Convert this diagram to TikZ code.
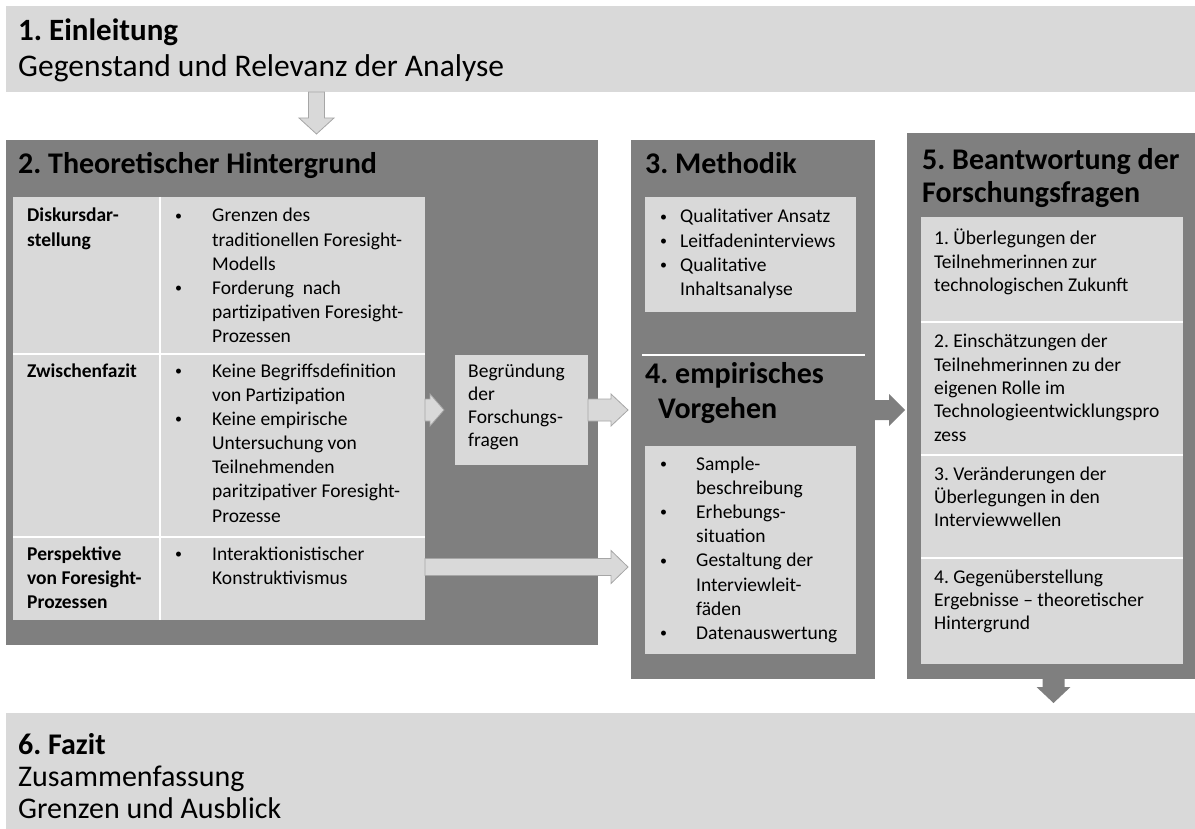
\documentclass[tikz,border=0pt]{standalone}
\usepackage{fontspec}
\setmainfont{Carlito}
\usetikzlibrary{calc}

\definecolor{boxlight}{HTML}{D9D9D9}
\definecolor{boxdark}{HTML}{7F7F7F}
\definecolor{arrowrim}{HTML}{A6A6A6}

% filled rectangle given by its corners (in px)
\newcommand\panel[6]{\node[#2, minimum width={(#5-#3)*1pt}, minimum height={(#6-#4)*1pt}] (#1) at (#3,#4) {};}
% block arrow pointing right: style, from, to, shaft half, head half, head length
\newcommand\rightblock[6]{\path[#1] let \p1=(#2), \p2=(#3) in
  ({\x1},{\y1+#4}) -- ({\x2-#6},{\y1+#4}) -- ({\x2-#6},{\y1+#5}) -- ({\x2},{\y1})
  -- ({\x2-#6},{\y1-#5}) -- ({\x2-#6},{\y1-#4}) -- ({\x1},{\y1-#4}) -- cycle;}
% block arrow pointing down: style, from, to, shaft half, head half, head length
\newcommand\downblock[6]{\path[#1] let \p1=(#2), \p2=(#3) in
  ({\x1-#4},{\y1}) -- ({\x1-#4},{\y2+#6}) -- ({\x1-#5},{\y2+#6}) -- ({\x1},{\y2})
  -- ({\x1+#5},{\y2+#6}) -- ({\x1+#4},{\y2+#6}) -- ({\x1+#4},{\y1}) -- cycle;}
% text block whose baseline is that of its first line; \\ breaks a line
% without ending the paragraph, so hanging indents carry on
\newcommand\blk[2]{\vtop{\hsize=#1\parindent=0pt\parskip=0pt
  \leftskip=0pt\rightskip=0pt plus 1fil\let\\\newline\noindent #2\par}}
% small list bullet
\newcommand\dotmark{\raisebox{1.8pt}{\fontsize{14}{14}\selectfont\textbullet}}
% bullet item with hanging indent
\newcommand\bitem[2]{\noindent\hangindent=#1\hangafter=1\makebox[#1][l]{\dotmark}#2\par}

\tikzset{
  panelbase/.style={anchor=north west, inner sep=0pt, outer sep=0pt, draw=none},
  light/.style={panelbase, fill=boxlight},
  dark/.style={panelbase, fill=boxdark},
  sepline/.style={draw=white, line width=1.5pt},
  head/.style={anchor=base west, inner sep=0pt, font=\fontsize{30}{36}\selectfont\bfseries},
  big/.style={anchor=base west, inner sep=0pt, font=\fontsize{30}{36}\selectfont},
  small/.style={anchor=base west, inner sep=0pt, font=\fontsize{19.5}{24.2}\selectfont},
  smallbold/.style={anchor=base west, inner sep=0pt, font=\fontsize{19.5}{24.2}\selectfont\bfseries},
  answer/.style={anchor=base west, inner sep=0pt, font=\fontsize{19.5}{23.3}\selectfont},
  lightarrow/.style={fill=boxlight, draw=arrowrim, line width=0.8pt},
  darkarrow/.style={fill=boxdark},
}

\begin{document}
\frenchspacing
\begin{tikzpicture}[x=1pt, y=-1pt]
\useasboundingbox (0,0) rectangle (1195,829);

% ---- 1. Einleitung
\panel{einl}{light}{6}{6}{1195}{92}
\node[head, font=\fontsize{31}{36}\selectfont\bfseries] (einlT) at (18,41) {1. Einleitung};
\node[big, font=\fontsize{31.5}{36}\selectfont] (einlS) at (18,77) {Gegenstand und Relevanz der Analyse};

% ---- 2. Theoretischer Hintergrund
\panel{theo}{dark}{6}{140}{598}{645}
\node[head] (theoT) at (18,174) {2. Theoretischer Hintergrund};
\panel{c11}{light}{13}{197}{160}{354}
\panel{c12}{light}{160}{197}{425}{354}
\panel{c21}{light}{13}{354}{160}{537}
\panel{c22}{light}{160}{354}{425}{537}
\panel{c31}{light}{13}{537}{160}{620}
\panel{c32}{light}{160}{537}{425}{620}
\draw[sepline] (c11.north east) -- (c31.south east);
\draw[sepline] (c11.south west) -- (c12.south east);
\draw[sepline] (c21.south west) -- (c22.south east);

\node[smallbold] (t11) at (27,222) {\blk{130pt}{Diskursdar-\\stellung}};
\node[small] (t12) at (175,222) {\blk{250pt}{\bitem{37pt}{Grenzen des\\traditionellen Foresight-\\Modells}\bitem{37pt}{Forderung\ \ nach\\partizipativen Foresight-\\Prozessen}}};
\node[smallbold] (t21) at (27,377) {\blk{130pt}{Zwischenfazit}};
\node[small] (t22) at (175,377) {\blk{250pt}{\bitem{37pt}{Keine Begriffsdefinition\\von Partizipation}\bitem{37pt}{Keine empirische\\Untersuchung von\\Teilnehmenden\\paritzipativer Foresight-\\Prozesse}}};
\node[smallbold] (t31) at (27,560) {\blk{130pt}{Perspektive\\von Foresight-\\Prozessen}};
\node[small] (t32) at (175,560) {\blk{250pt}{\bitem{37pt}{Interaktionistischer\\Konstruktivismus}}};

\panel{beg}{light}{455}{355}{588}{465}
\node[answer] (begT) at (468,377) {\blk{120pt}{Begründung\\der\\Forschungs-\\fragen}};

% ---- 3. Methodik / 4. empirisches Vorgehen
\panel{col34}{dark}{631}{140}{875}{679}
\node[head] (methT) at (645,174) {3. Methodik};
\panel{meth}{light}{645}{197}{856}{312}
\node[small] (methL) at (660,223) {\blk{200pt}{\bitem{20pt}{Qualitativer Ansatz}\bitem{20pt}{Leitfadeninterviews}\bitem{20pt}{Qualitative\\Inhaltsanalyse}}};
\draw[sepline] ($(col34.north west)+(11,215)$) -- ($(col34.north east)+(-10,215)$);
\node[head] (empT) at (645,383) {4. empirisches};
\node[head] (empT2) at (658,418) {Vorgehen};
\panel{emp}{light}{645}{446}{856}{654}
\node[small] (empL) at (660,470) {\blk{200pt}{\bitem{36pt}{Sample-\\beschreibung}\bitem{36pt}{Erhebungs-\\situation}\bitem{36pt}{Gestaltung der\\Interviewleit-\\fäden}\bitem{36pt}{Datenauswertung}}};

% ---- 5. Beantwortung der Forschungsfragen
\panel{col5}{dark}{907}{133}{1195}{679}
\node[head] (ansT) at (922,170) {5. Beantwortung der};
\node[head] (ansT2) at (922,203) {Forschungsfragen};
\panel{q1}{light}{921}{217}{1183}{322}
\panel{q2}{light}{921}{322}{1183}{455}
\panel{q3}{light}{921}{455}{1183}{558}
\panel{q4}{light}{921}{558}{1183}{664}
\draw[sepline] (q1.south west) -- (q1.south east);
\draw[sepline] (q2.south west) -- (q2.south east);
\draw[sepline] (q3.south west) -- (q3.south east);
\node[answer] (q1T) at (934,245) {\blk{245pt}{1. Überlegungen der\\Teilnehmerinnen zur\\technologischen Zukunft}};
\node[answer] (q2T) at (934,348) {\blk{245pt}{2. Einschätzungen der\\Teilnehmerinnen zu der\\eigenen Rolle im\\Technologieentwicklungspro\\zess}};
\node[answer] (q3T) at (934,480) {\blk{245pt}{3. Veränderungen der\\Überlegungen in den\\Interviewwellen}};
\node[answer] (q4T) at (934,583) {\blk{245pt}{4. Gegenüberstellung\\Ergebnisse – theoretischer\\Hintergrund}};

% ---- 6. Fazit
\panel{fazit}{light}{6}{713}{1195}{829}
\node[head] (fazT) at (18,754) {6. Fazit};
\node[big] (fazS1) at (18,786) {Zusammenfassung};
\node[big] (fazS2) at (18,818) {Grenzen und Ausblick};

% ---- connecting block arrows
\coordinate (aF1) at (einl.south -| 316.5,0);
\coordinate (aF2) at ($(theo.north -| 316.5,0)+(0,-6)$);
\downblock{lightarrow}{aF1}{aF2}{8pt}{17.5pt}{16pt}

\coordinate (aA1) at (c22.east |- beg.west);
\coordinate (aA2) at ($(beg.west)+(-11,0)$);
\rightblock{lightarrow}{aA1}{aA2}{11pt}{16pt}{14pt}

\coordinate (aB2) at ($(col34.west |- beg.east)+(-3,0)$);
\rightblock{lightarrow}{beg.east}{aB2}{11pt}{16pt}{17pt}

\coordinate (aC1) at ($(c32.north east)+(0,30)$);
\coordinate (aC2) at ($(col34.west |- aC1)+(-3,0)$);
\rightblock{lightarrow}{aC1}{aC2}{8.5pt}{16.5pt}{17pt}

\coordinate (aD1) at (col34.east |- beg.east);
\coordinate (aD2) at ($(col5.west |- beg.east)+(-2,0)$);
\rightblock{darkarrow}{aD1}{aD2}{10pt}{16pt}{16pt}

\coordinate (aE1) at (col5.south -| 1053.5,0);
\coordinate (aE2) at ($(fazit.north -| 1053.5,0)+(0,-10)$);
\downblock{darkarrow}{aE1}{aE2}{11pt}{17pt}{16pt}
\end{tikzpicture}
\end{document}
